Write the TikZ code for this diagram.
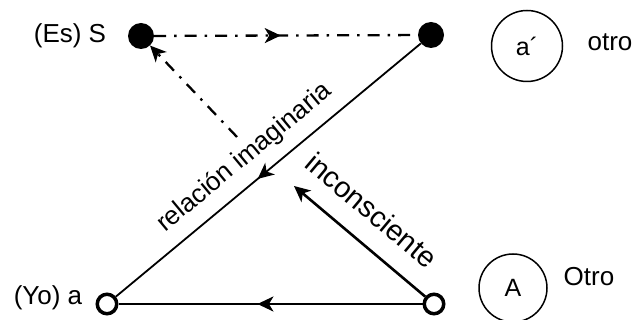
\documentclass[tikz,border=0pt]{standalone}
\usepackage{fontspec}
\setmainfont{Liberation Sans}
\usetikzlibrary{arrows.meta,decorations.markings}
\begin{document}
\begin{tikzpicture}[x=1pt,y=-1pt,
  fdot/.style={circle,fill=black,inner sep=0pt,minimum size=26pt},
  odot/.style={circle,draw=black,line width=3.5pt,inner sep=0pt,minimum size=19.5pt},
  bigc/.style={circle,draw=black,line width=1.5pt,inner sep=0pt,font=\fontsize{25}{28}\selectfont},
  lab/.style={inner sep=0pt,font=\fontsize{26}{30}\selectfont},
  slab/.style={inner sep=0pt,anchor=base,font=\fontsize{26}{30}\selectfont},
  midarrow/.style={postaction={decorate},decoration={markings,
     mark=at position #1 with {\arrow{Stealth[length=16pt,width=15pt,inset=4.5pt]}}}},
  dd/.style={line width=2.3pt,dash pattern=on 12pt off 8pt on 2.5pt off 8pt},
  endarrow/.style={-{Stealth[length=16pt,width=15pt,inset=4.5pt]}}
]
\useasboundingbox (0,0) rectangle (635,320);
% points
\node[fdot] (S) at (141,36) {};
\node[fdot] (ap) at (431,35) {};
\node[odot] (a) at (107,304) {};
\node[odot] (A) at (434,304) {};
\node[bigc,minimum size=71pt] (ca) at (527,46) {a´};
\node[bigc,minimum size=68pt] (cA) at (513,288) {A};
% labels
\node[lab] (lS) at (70,36) {(Es) S};
\node[lab] (la) at (48,298) {(Yo) a};
\node[lab] (lotro) at (610,42) {otro};
\node[lab] (lOtro) at (589,277) {Otro};
\node[slab,rotate=39.7] (rel) at (249,163) {relación imaginaria};
\node[slab,rotate=-40,font=\fontsize{29}{33}\selectfont] (inc) at (365,218) {inconsciente};
% connectors
\coordinate (d1) at (237,137);
\coordinate (i1) at (294,186);
\draw[dd,midarrow=0.48] (S) -- (ap);
\draw[dd,endarrow] (d1) -- (S);
\draw[line width=1.8pt,midarrow=0.535] (ap) -- (a);
\draw[line width=2.2pt,midarrow=0.543] (A) -- (a);
\draw[line width=2.6pt,endarrow] (A) -- (i1);
\end{tikzpicture}
\end{document}
